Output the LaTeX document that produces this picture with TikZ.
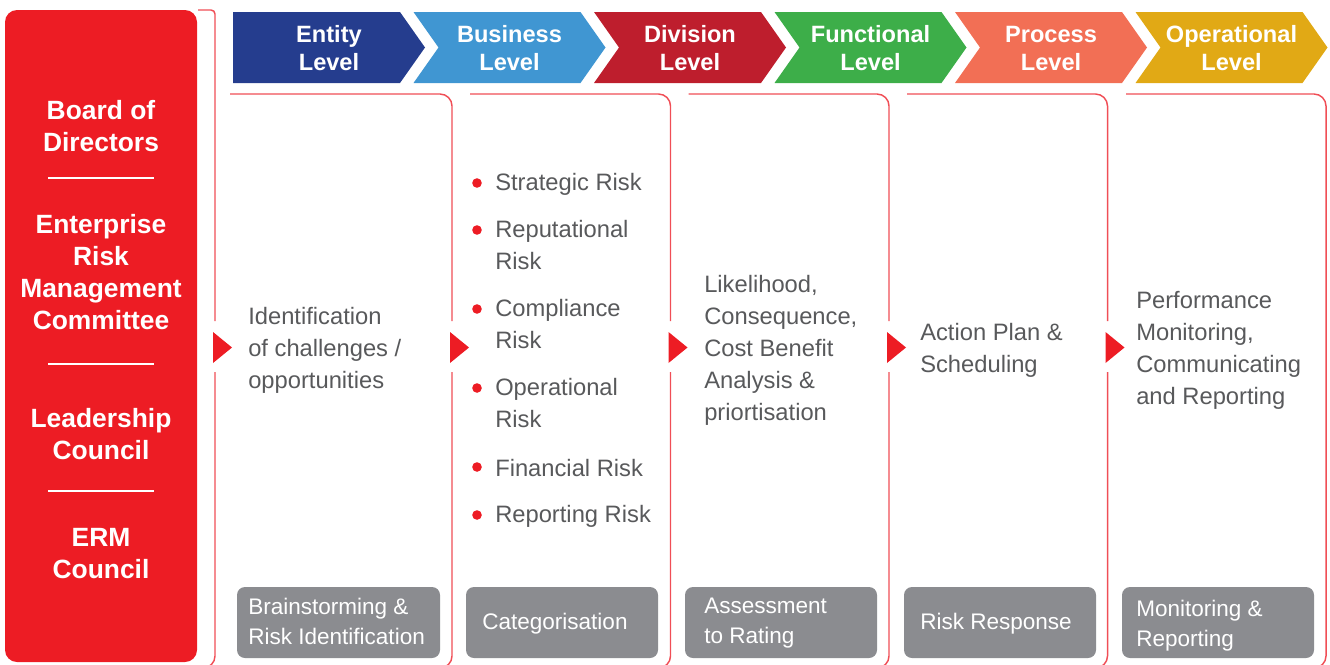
\documentclass[tikz,border=0pt]{standalone}
\usepackage{fontspec}
\setmainfont{Liberation Sans}

\definecolor{ermred}{RGB}{237,28,36}
\definecolor{edgered}{RGB}{240,78,86}
\definecolor{bodygray}{RGB}{88,89,91}
\definecolor{taggray}{RGB}{139,140,144}
\definecolor{lvlA}{RGB}{37,61,142}
\definecolor{lvlB}{RGB}{64,150,210}
\definecolor{lvlC}{RGB}{190,30,45}
\definecolor{lvlD}{RGB}{61,174,73}
\definecolor{lvlE}{RGB}{242,111,85}
\definecolor{lvlF}{RGB}{225,169,21}

\tikzset{
  lvltext/.style={text=white, font=\fontsize{17.7}{21}\selectfont\bfseries, align=center},
  boardtext/.style={text=white, font=\fontsize{19.8}{24}\selectfont\bfseries, align=center},
  bodytext/.style={text=bodygray, font=\fontsize{17.8}{24}\selectfont, align=left, anchor=west, inner sep=0pt},
  tagtext/.style={text=white, font=\fontsize{16.9}{22.5}\selectfont, align=left, anchor=west, inner sep=0pt},
  panelline/.style={edgered, line width=1.1pt, rounded corners=9pt},
}

\begin{document}
\begin{tikzpicture}[x=0.75pt, y=-0.75pt]
    \useasboundingbox (0,0) rectangle (1330,664);
    \clip (0,0) rectangle (1330,664);

    % Level chevrons
    \foreach \lvl/\col [count=\i from 0] in {Entity/lvlA, Business/lvlB, Division/lvlC, Functional/lvlD, Process/lvlE, Operational/lvlF} {
      \pgfmathsetmacro\L{233+180.5*\i}
      \pgfmathsetmacro\nd{\i==0 ? 0 : 25}
      \fill[\col] (\L,12) --++ (167,0) --++ (25,35.5) --++ (-25,35.5) -- (\L,83) --++ (\nd,-35.5) -- cycle;
      \node[lvltext] (lvl\i) at (\L+96,48) {\lvl\\Level};
    }

    % Governance bodies
    \fill[ermred, rounded corners=9pt] (5,10) rectangle (197,662);
    \node[boardtext] (board) at (101,126) {Board of\\Directors};
    \node[boardtext] (ermc) at (101,272) {Enterprise\\Risk\\Management\\Committee};
    \node[boardtext] (lead) at (101,434) {Leadership\\Council};
    \node[boardtext] (council) at (101,554) {ERM\\Council};
    \foreach \yy in {178,364,491}
      \draw[white, line width=2pt] (48,\yy) -- (154,\yy);

    % Panel outlines
    \draw[panelline, rounded corners=3pt] (198,10) -- (215,10) -- (215,321);
    \draw[panelline] (215,372) -- (215,668) -- (190,668);
    \foreach \i in {0,...,3} {
      \pgfmathsetmacro\R{452+218.5*\i}
      \pgfmathsetmacro\S{\i==0 ? 230 : \R-200.5}
      \draw[panelline] (\S,94) -- (\R,94) -- (\R,321);
      \draw[panelline] (\R,372) -- (\R,668) -- (\R-40,668);
    }
    \draw[panelline] (1126,94) -- (1326,94) -- (1326,668) -- (1290,668);

    % Step markers
    \foreach \xx in {215,452,670.5,889,1107.5}
      \fill[ermred] (\xx-2,332) -- (\xx+17,347.5) -- (\xx-2,363) -- cycle;

    % Panel texts
    \node[bodytext] (ident) at (248,350) {Identification\\of challenges /\\opportunities};
    \foreach \txt/\yy/\by [count=\k] in {Strategic Risk/184/183, Reputational\\Risk/245/230, Compliance\\Risk/324/309, Operational\\Risk/403/388, Financial Risk/468/467, Reporting Risk/516/515} {
      \fill[ermred] (477,\by) circle (3.6pt);
      \node[bodytext] (risk\k) at (495,\yy) {\txt};
    }
    \node[bodytext] (assess) at (704,350) {Likelihood,\\Consequence,\\Cost Benefit\\Analysis \&\\priortisation};
    \node[bodytext] (action) at (920,350) {Action Plan \&\\Scheduling};
    \node[bodytext] (perf) at (1136,350) {Performance\\Monitoring,\\Communicating\\and Reporting};

    % Stage tags
    \foreach \xa/\xb/\tx/\ty/\txt [count=\k] in {237/440/248/621/Brainstorming \&\\Risk Identification, 466/658/482/624/Categorisation, 685/877/704/623/Assessment\\to Rating, 904/1096/920/624/Risk Response, 1122/1314/1136/626/Monitoring \&\\Reporting} {
      \fill[taggray, rounded corners=6pt] (\xa,587) rectangle (\xb,658);
      \node[tagtext] (tag\k) at (\tx,\ty) {\txt};
    }
  \end{tikzpicture}
\end{document}
